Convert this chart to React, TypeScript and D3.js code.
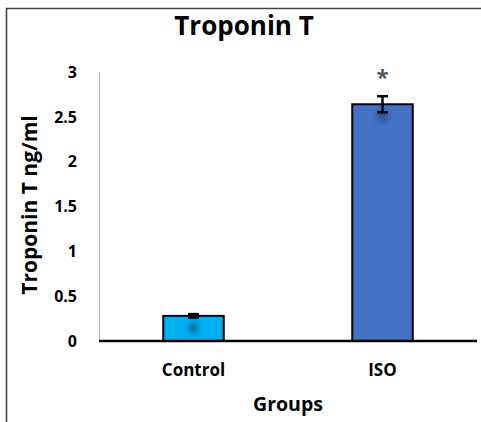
import React from "react";
import * as d3 from "d3";

const categories = ["Control", "ISO"];
const values = [0.28, 2.64];
const errors = [0.02, 0.09];
const colors = ["#00B0F0", "#4472C4"];
const yTicks = [0, 0.5, 1, 1.5, 2, 2.5, 3];
const significance = ["", "*"];

export default function App() {
  const W = 481, H = 422;
  const y = d3.scaleLinear().domain([0, 3]).range([341, 72]);
  const x = d3.scaleBand().domain(categories).range([99, 477]).paddingInner(0.68).paddingOuter(0.34);
  const font = "'Open Sans', 'Noto Sans', sans-serif";
  return (
    <svg width={W} height={H} style={{ position: "absolute", left: 0, top: 0 }}>
      <defs>
        <filter id="blur" x="-100%" y="-100%" width="300%" height="300%">
          <feGaussianBlur stdDeviation="3" />
        </filter>
      </defs>
      <rect x={0} y={0} width={W} height={H} fill="#fff" />
      <path d={`M6.5,${H} V8.5 H${W}`} fill="none" stroke="#444" strokeWidth={1.6} />
      <text x={244} y={35} textAnchor="middle" fontFamily={font} fontWeight="bold" fontSize={26} fill="#000">Troponin T</text>
      <line x1={99.5} x2={99.5} y1={y(3)} y2={y(0)} stroke="#bbb" strokeWidth={1} />
      {yTicks.map((t) => (
        <text key={t} x={77} y={y(t)} dy="0.36em" textAnchor="end" fontFamily={font} fontWeight="bold" fontSize={16} fill="#000">{t}</text>
      ))}
      {categories.map((c, i) => {
        const bx = x(c)!;
        const bw = x.bandwidth();
        const cx = bx + bw / 2;
        return (
          <g key={c}>
            <rect x={bx} y={y(values[i])} width={bw} height={y(0) - y(values[i])} fill={colors[i]} stroke="#000" strokeWidth={2} />
            <ellipse cx={cx} cy={y(values[i]) + 12} rx={4} ry={5} fill="#1a2a4a" opacity={0.7} filter="url(#blur)" />
            <line x1={cx} x2={cx} y1={y(values[i] + errors[i])} y2={y(values[i] - errors[i])} stroke="#000" strokeWidth={2.5} />
            <line x1={cx - 5.5} x2={cx + 5.5} y1={y(values[i] + errors[i])} y2={y(values[i] + errors[i])} stroke="#000" strokeWidth={2.5} />
            <line x1={cx - 5.5} x2={cx + 5.5} y1={y(values[i] - errors[i])} y2={y(values[i] - errors[i])} stroke="#000" strokeWidth={2.5} />
            {significance[i] && (
              <text x={cx} y={y(values[i] + errors[i]) - 11} textAnchor="middle" fontFamily={font} fontWeight="bold" fontSize={22} fill="#555">{significance[i]}</text>
            )}
            <text x={cx} y={376} textAnchor="middle" fontFamily={font} fontWeight="bold" fontSize={17} fill="#000">{c}</text>
          </g>
        );
      })}
      <line x1={99} x2={477} y1={y(0)} y2={y(0)} stroke="#000" strokeWidth={2.5} />
      <text x={288} y={411} textAnchor="middle" fontFamily={font} fontWeight="bold" fontSize={19.5} fill="#000">Groups</text>
      <text transform={`translate(37,205) rotate(-90)`} textAnchor="middle" fontFamily={font} fontWeight="bold" fontSize={21} fill="#000">Troponin T ng/ml</text>
    </svg>
  );
}
